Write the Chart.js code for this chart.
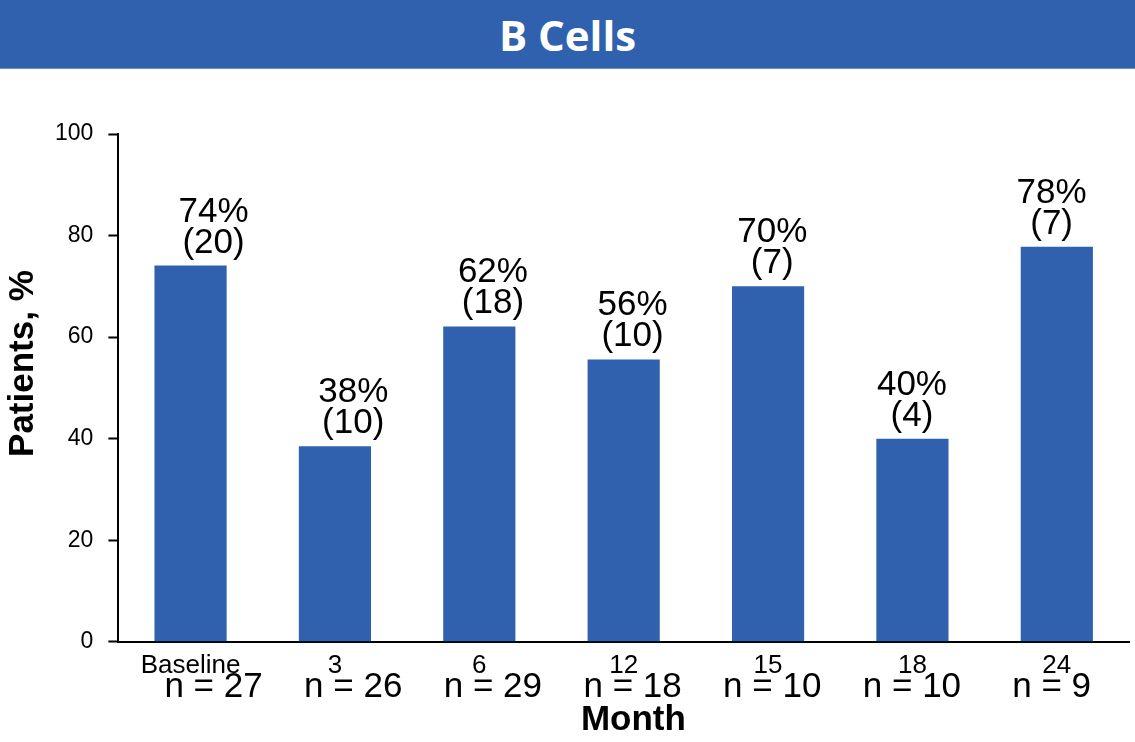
<!DOCTYPE html>
<html>
<head>
<meta charset="utf-8">
<script src="https://cdn.jsdelivr.net/npm/chart.js@4"></script>
<style>
  html, body { margin: 0; padding: 0; background: #fff; }
  #wrap { position: relative; width: 1135px; height: 742px; }
  #banner {
    position: absolute; left: 0; top: 0; width: 1135px; height: 68px;
    background: #3061ae; border-bottom: 1px solid #6f8fc8;
    color: #fff; font: bold 42px "Open Sans", sans-serif;
    display: flex; align-items: center; justify-content: center;
  }
  #chart { position: absolute; left: 0; top: 0; }
</style>
</head>
<body>
<div id="wrap">
  <canvas id="chart" width="1135" height="742"></canvas>
  <div id="banner">B Cells</div>
</div>
<script>
const months = ['Baseline', '3', '6', '12', '15', '18', '24'];
const patientPct = [74.1, 38.5, 62.1, 55.6, 70, 40, 77.8];
const pctLabels = [74, 38, 62, 56, 70, 40, 78];
const patientCount = [20, 10, 18, 10, 7, 4, 7];
const nTotal = [27, 26, 29, 18, 10, 10, 9];
const yTicks = [0, 20, 40, 60, 80, 100];

const barColor = '#3061ae';
const fontFamily = '"Liberation Sans", Arial, sans-serif';
const textFont = '35px ' + fontFamily;

// the text boxes in the original slide sit on a slightly narrower grid than the bars
function textShift(i) {
    return 23 - 4.7 * i;
}

const annotations = {
    id: 'annotations',
    afterDatasetsDraw(chart) {
        const ctx = chart.ctx;
        const meta = chart.getDatasetMeta(0);
        const xScale = chart.scales.x;
        ctx.save();
        ctx.font = textFont;
        ctx.fillStyle = '#000';
        ctx.textAlign = 'center';
        ctx.textBaseline = 'alphabetic';
        meta.data.forEach((bar, i) => {
            const x = bar.x + textShift(i);
            ctx.fillText(`(${patientCount[i]})`, x, bar.y - 13);
            ctx.fillText(`${pctLabels[i]}%`, x, bar.y - 44);
        });
        months.forEach((m, i) => {
            const x = xScale.getPixelForValue(i) + textShift(i);
            ctx.fillText(`n = ${nTotal[i]}`, x, 697);
        });
        ctx.restore();
    }
};

new Chart(document.getElementById('chart'), {
    type: 'bar',
    data: {
        labels: months,
        datasets: [{
            data: patientPct,
            backgroundColor: barColor,
            borderWidth: 0,
            categoryPercentage: 0.5,
            barPercentage: 1
        }]
    },
    options: {
        responsive: false,
        animation: false,
        events: [],
        layout: { padding: { top: 134, right: 6, left: 0, bottom: 0 } },
        plugins: {
            legend: { display: false },
            tooltip: { enabled: false },
            title: { display: false }
        },
        scales: {
            x: {
                grid: { display: false, drawTicks: false },
                border: { color: '#000', width: 2 },
                ticks: {
                    color: '#000',
                    padding: 8,
                    font: { family: fontFamily, size: 26 }
                },
                title: {
                    display: true,
                    // leading spaces nudge the title right like in the slide
                    text: '  Month',
                    color: '#000',
                    padding: { top: 10, bottom: 1 },
                    font: { family: fontFamily, size: 35, weight: 'bold' }
                }
            },
            y: {
                min: 0,
                max: 100,
                afterBuildTicks: scale => { scale.ticks = yTicks.map(v => ({ value: v })); },
                grid: { drawOnChartArea: false, drawTicks: true, tickLength: 10, tickColor: '#000', tickWidth: 2 },
                border: { color: '#000', width: 2 },
                ticks: {
                    color: '#000',
                    padding: 15,
                    font: { family: fontFamily, size: 23 }
                },
                title: {
                    display: true,
                    // leading spaces push the rotated title up a little
                    text: '     Patients, %',
                    color: '#000',
                    padding: { top: 2, bottom: -4 },
                    font: { family: fontFamily, size: 35, weight: 'bold' }
                }
            }
        }
    },
    plugins: [annotations]
});
</script>
</body>
</html>
